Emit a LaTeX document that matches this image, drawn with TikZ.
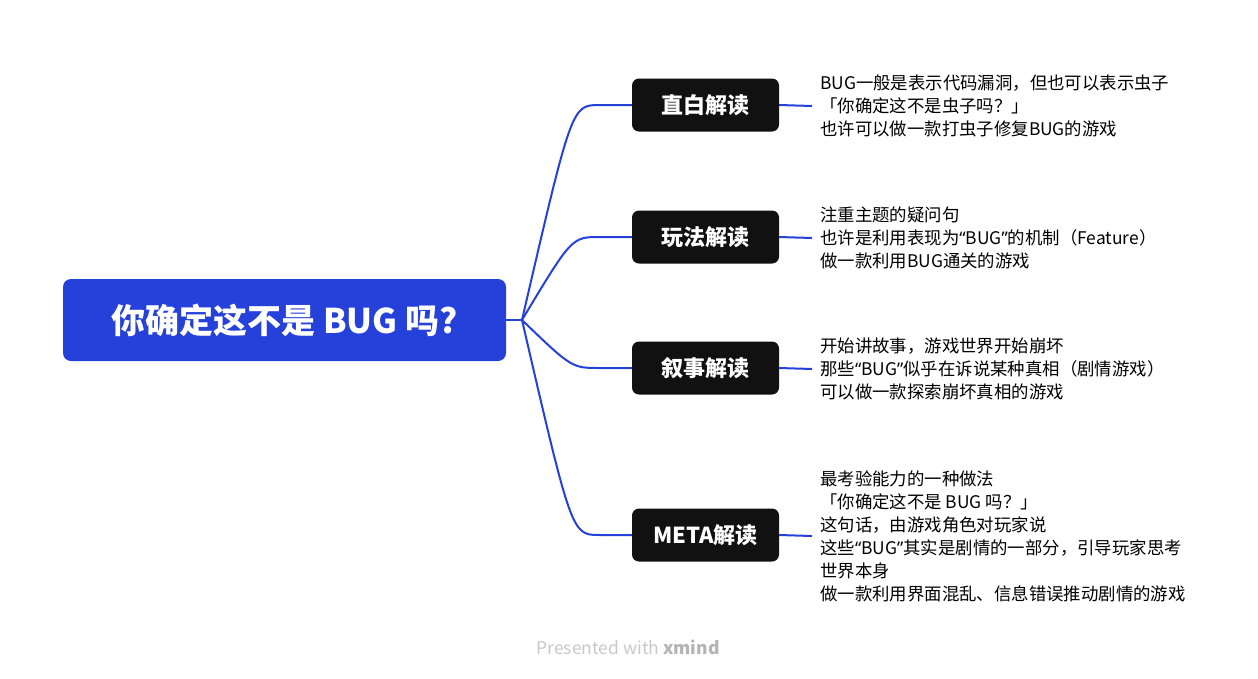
\documentclass[tikz,border=0pt]{standalone}
\usepackage{fontspec}
\setmainfont{Noto Sans CJK SC}
\newfontfamily\latinq{Noto Sans}
\newcommand\bugq{{\latinq“}BUG{\latinq”}}
\usepackage{tikz}
\usetikzlibrary{calc}
\definecolor{rootblue}{HTML}{2641DA}
\definecolor{topicblack}{HTML}{111111}
\definecolor{creditgray}{HTML}{C8C8C8}
\definecolor{creditdark}{HTML}{B4B4B4}

\begin{document}
\begin{tikzpicture}[x=1pt,y=-1pt,
root/.style={fill=rootblue,rounded corners=8pt,text=white,
  font=\fontsize{34}{38}\selectfont\bfseries,minimum width=443pt,minimum height=82pt},
topic/.style={fill=topicblack,rounded corners=7pt,text=white,
  font=\fontsize{22}{26}\selectfont\bfseries,minimum width=147pt,minimum height=53pt},
note/.style={anchor=west,align=left,inner sep=8pt,
  font=\fontsize{17.4}{23}\selectfont},
link/.style={draw=rootblue,line width=2pt}]
\useasboundingbox (0,0) rectangle (1258,678);
\node [root] (root) at (284.5,320) {你确定这不是 BUG 吗?};
\node [topic] (zb) at (705.5,105) {直白解读};
\node [topic] (wf) at (705.5,237) {玩法解读};
\node [topic] (xs) at (705.5,368) {叙事解读};
\node [topic] (meta) at (705.5,535) {META解读};
\node [note] (zbnote) at (812,106) {BUG一般是表示代码漏洞，但也可以表示虫子\\
「你确定这不是虫子吗？」\\
也许可以做一款打虫子修复BUG的游戏};
\node [note] (wfnote) at (812,238) {注重主题的疑问句\\
也许是利用表现为\bugq 的机制（Feature）\\
做一款利用BUG通关的游戏};
\node [note] (xsnote) at (812,369) {开始讲故事，游戏世界开始崩坏\\
那些\bugq 似乎在诉说某种真相（剧情游戏）\\
可以做一款探索崩坏真相的游戏};
\node [note] (metanote) at (812,536) {最考验能力的一种做法\\
「你确定这不是 BUG 吗？」\\
这句话，由游戏角色对玩家说\\
这些\bugq 其实是剧情的一部分，引导玩家思考\\
世界本身\\
做一款利用界面混乱、信息错误推动剧情的游戏};
\node [font=\fontsize{17.5}{21}\selectfont,text=creditgray] (credit) at (628,647)
  {Presented with {\bfseries\color{creditdark}xmind}};
\coordinate (j) at (522,320);
\draw [link] (root.east) -- (j);
\foreach \b in {zb,wf,xs,meta}{
\draw [link] (j) .. controls ($(\b.west)+(-60,0)$) .. ($(\b.west)+(-32,0)$) -- (\b.west);
\draw [link] (\b.east) -- (\b note.west);
}
\end{tikzpicture}
\end{document}
